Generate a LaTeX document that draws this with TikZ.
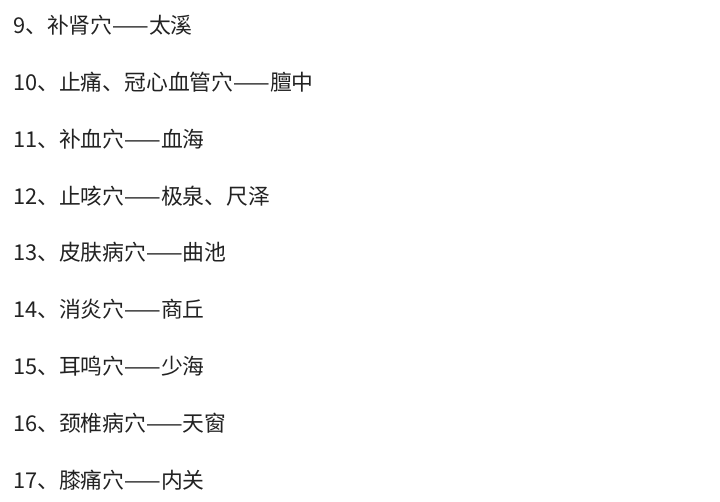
\documentclass[tikz,border=0pt]{standalone}
\usepackage{fontspec}
\newfontfamily\cjk{Noto Sans CJK SC}
\definecolor{txt}{HTML}{222222}
\begin{document}
\begin{tikzpicture}[x=1pt,y=-1pt,
  item/.style={anchor=west,inner sep=0pt,font=\cjk\fontsize{21.8}{22}\selectfont,text=txt}]
\useasboundingbox[fill=white] (0,0) rectangle (720,501);
\node[item] (l9) at (13,25) {9、补肾穴——太溪};
\node[item] (l10) at (13,82) {10、止痛、冠心血管穴——膻中};
\node[item] (l11) at (13,139) {11、补血穴——血海};
\node[item] (l12) at (13,196) {12、止咳穴——极泉、尺泽};
\node[item] (l13) at (13,252) {13、皮肤病穴——曲池};
\node[item] (l14) at (13,309) {14、消炎穴——商丘};
\node[item] (l15) at (13,366) {15、耳鸣穴——少海};
\node[item] (l16) at (13,423) {16、颈椎病穴——天窗};
\node[item] (l17) at (13,480) {17、膝痛穴——内关};
\end{tikzpicture}
\end{document}
